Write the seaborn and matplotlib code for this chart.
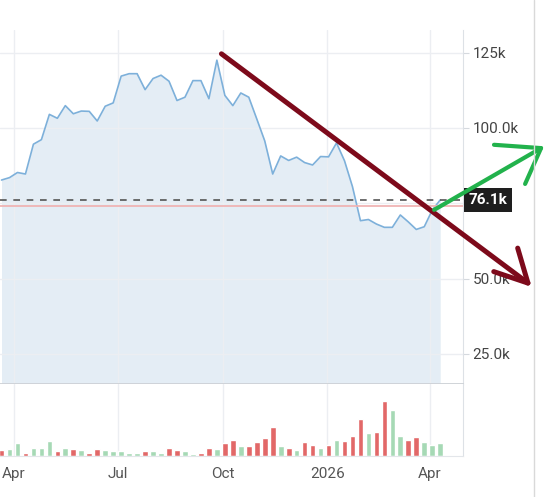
import pandas as pd
import matplotlib
matplotlib.use('Agg')
import matplotlib.pyplot as plt
from matplotlib.lines import Line2D
import seaborn as sns

sns.set_style('white')
plt.rcParams['font.family'] = ['Roboto', 'DejaVu Sans']

# ---------------------------------------------------------------
# data (weekly, price in thousands)
# ---------------------------------------------------------------
price_k = [82.7, 83.5, 85.2, 84.7, 94.6, 96.1, 104.5, 103.2, 107.4, 104.7,
           105.6, 105.5, 102.3, 107.2, 108.3, 117.2, 118.0, 118.0, 112.7, 116.4,
           117.5, 115.5, 109.1, 110.2, 115.7, 115.7, 109.7, 122.5, 110.8, 107.4,
           111.6, 110.2, 103.0, 95.7, 84.7, 90.7, 89.2, 90.3, 88.5, 87.7,
           90.5, 90.4, 95.0, 89.1, 80.5, 69.2, 69.6, 68.1, 67.0, 67.0,
           71.1, 68.8, 66.3, 67.2, 72.7, 76.1]
volume = [6, 7, 12.7, 3.3, 8.3, 8.3, 15, 5, 8.3, 7.3,
          6, 3.3, 7.3, 6, 4.7, 4.7, 3.3, 3.3, 4.7, 4.7,
          3.3, 8.3, 6, 4.7, 2, 3.3, 8.3, 7.3, 12.7, 16,
          10, 10, 13.7, 17.7, 29.3, 9.7, 8.3, 6, 14, 11.3,
          8.3, 11.3, 16.3, 15, 20.3, 37, 23, 24.3, 55.3, 46.3,
          20.3, 16.3, 19, 14, 11.3, 12.7]
up_week = [0, 1, 1, 0, 1, 1, 1, 0, 1, 0,
           1, 0, 0, 1, 1, 1, 1, 1, 0, 1,
           1, 0, 0, 1, 1, 0, 0, 1, 0, 0,
           1, 0, 0, 0, 0, 1, 0, 1, 0, 0,
           1, 0, 1, 0, 0, 0, 1, 0, 0, 1,
           1, 0, 0, 1, 1, 1]
weeks = pd.date_range('2025-03-21', periods=len(price_k), freq='7D')

last_price = 76.1
ref_price = 74.2

y_ticks = [25, 50, 75, 100, 125]
y_labels = ['25.0k', '50.0k', '', '100.0k', '125k']
x_ticks = pd.to_datetime(['2025-04-01', '2025-07-01', '2025-10-01', '2026-01-01', '2026-04-01'])
x_labels = ['Apr', 'Jul', 'Oct', '2026', 'Apr']

# hand drawn arrows: (date, price k)
down_line = [('2025-09-30', 124.6), ('2026-06-26', 48.5)]
down_head = [('2026-06-17', 60.1), ('2026-06-26', 48.5), ('2026-05-27', 52.3)]
up_line = [('2026-04-04 16:00', 72.8), ('2026-07-07 12:00', 93.3)]
up_head = [('2026-05-27 05:00', 94.4), ('2026-07-07 12:00', 93.3), ('2026-06-23 12:00', 81.4)]

df = pd.DataFrame({'week': weeks, 'price': price_k, 'volume': volume, 'up': up_week})
bar_colors = ['#a6d9b5' if u else '#e26868' for u in df['up']]

# ---------------------------------------------------------------
# figure
# ---------------------------------------------------------------
fig = plt.figure(figsize=(5.44, 4.97), dpi=100)
ax = fig.add_axes([0, 0.2274, 0.8511, 0.7122])
axv = fig.add_axes([0, 0.0825, 0.8511, 0.1449], sharex=ax)

ax.fill_between(df['week'], df['price'], 0, color='#e4edf5', lw=0, zorder=1)
sns.lineplot(data=df, x='week', y='price', ax=ax, color='#7db0da', lw=1.2, zorder=3)
ax.axhline(last_price, color='#555555', ls=(0, (4, 4)), lw=1.2, zorder=4)
ax.axhline(ref_price, color='#f0b4b4', lw=1.3, zorder=4)

ax.set_ylim(15, 132.5)
ax.set_xlim(pd.Timestamp('2025-03-19 16:00'), pd.Timestamp('2026-04-30'))
ax.set_yticks(y_ticks)
ax.set_yticklabels(y_labels)
ax.yaxis.tick_right()
ax.set_axisbelow('line')
ax.grid(True, color='#eceef2', lw=1)
ax.set_xlabel('')
ax.set_ylabel('')
ax.tick_params(axis='y', length=4, color='#d5d9de', pad=3, labelsize=11, labelcolor='#444444')
ax.tick_params(axis='x', length=0, labelbottom=False)
for s in ['top', 'left']:
    ax.spines[s].set_visible(False)
ax.spines['right'].set_color('#dde1e6')
ax.spines['bottom'].set_color('#cdd1d6')
ax.spines['bottom'].set_linewidth(1.3)

# volume panel
axv.bar(df['week'], df['volume'], width=5.0, color=bar_colors, zorder=2)
axv.set_ylim(0, 72)
axv.set_yticks([])
axv.set_xticks(x_ticks)
axv.set_xticklabels(x_labels)
axv.grid(True, axis='x', color='#eceef2', lw=1)
axv.set_axisbelow(True)
axv.tick_params(axis='x', length=5, color='#d5d9de', pad=3, labelsize=11, labelcolor='#555555')
for s in ['top', 'left']:
    axv.spines[s].set_visible(False)
axv.spines['right'].set_color('#dde1e6')
axv.spines['bottom'].set_color('#e3e6ea')

# last price tag
ax.annotate(f'{last_price}k', xy=(1, last_price), xycoords=('axes fraction', 'data'),
            xytext=(4, 0), textcoords='offset points', ha='left', va='center',
            color='white', fontsize=11, fontweight='bold', annotation_clip=False,
            bbox=dict(boxstyle='square,pad=0.32', fc='#1e1e1e', ec='none'), zorder=6)

# hand drawn arrows
def draw(pts, color, lw):
    d = pd.to_datetime([p[0] for p in pts])
    v = [p[1] for p in pts]
    ax.plot(d, v, color=color, lw=lw, clip_on=False, zorder=10,
            solid_capstyle='round', solid_joinstyle='round')

draw(down_line, '#7d0a1b', 3.6)
draw(down_head, '#7d0a1b', 3.6)
draw(up_line, '#22b24c', 3.0)
draw(up_head, '#22b24c', 3.0)

# outer frame edge on the right
fig.add_artist(Line2D([534 / 544, 534 / 544], [0, 1], transform=fig.transFigure,
                      color='#d9d9d9', lw=1))

plt.savefig('out.png', dpi=100)
plt.close()
